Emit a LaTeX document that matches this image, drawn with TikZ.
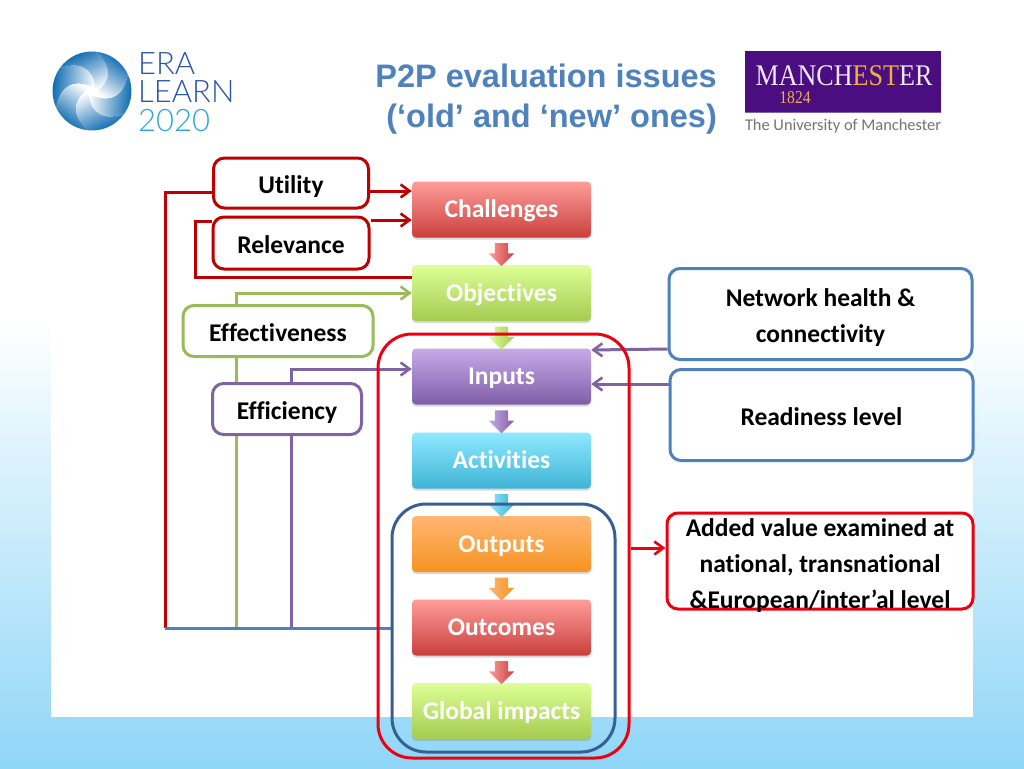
\documentclass[tikz,border=0pt]{standalone}
\usepackage{fontspec}
\setmainfont{Carlito}[Ligatures=CommonOff]
\newfontfamily\titlefont{Liberation Sans}
\newfontfamily\logofont{Lato Light}
\newfontfamily\uomfont{Liberation Serif}[FakeStretch=0.87]
\usetikzlibrary{arrows.meta,shapes.arrows,shadows,backgrounds}
\definecolor{skyblue}{HTML}{8FD6F7}
\definecolor{titleblue}{HTML}{4F81BD}
\definecolor{darkred}{HTML}{C00000}
\definecolor{brightred}{HTML}{EE0010}
\definecolor{sidegreen}{HTML}{9BBB59}
\definecolor{sidepurple}{HTML}{8064A2}
\definecolor{frameblue}{HTML}{376092}
\definecolor{uompurple}{HTML}{4A0E80}
\definecolor{uomgold}{HTML}{F0B040}
\definecolor{logodark}{HTML}{0062AC}
\definecolor{logomid}{HTML}{3FAAE6}
\definecolor{logonavy}{HTML}{2A55A5}
\definecolor{logolight}{HTML}{2AA5DC}
\definecolor{redtop}{HTML}{FF9D9A}
\definecolor{redbot}{HTML}{C9403D}
\definecolor{greentop}{HTML}{DDFF96}
\definecolor{greenbot}{HTML}{A5CB50}
\definecolor{purpletop}{HTML}{C6ABE8}
\definecolor{purplebot}{HTML}{7F5EA8}
\definecolor{cyantop}{HTML}{8FE9FF}
\definecolor{cyanbot}{HTML}{3FB4D6}
\definecolor{orangetop}{HTML}{FFB673}
\definecolor{orangebot}{HTML}{F79320}
\tikzset{
  flowbox/.style 2 args={rounded corners=4pt,minimum width=179pt,minimum height=56pt,inner sep=0pt,
    top color=#1,bottom color=#2,text=white,font=\fontsize{25.5}{30}\selectfont\bfseries,
    execute at begin node={\rule{0pt}{25pt}},execute at end node={\rule[-9pt]{0pt}{9pt}},
    drop shadow={opacity=0.3,shadow xshift=0pt,shadow yshift=-2pt}},
  flowarrow/.style 2 args={single arrow,rotate=-90,minimum height=23pt,minimum width=25pt,inner xsep=0pt,inner ysep=6.5pt,
    single arrow head extend=6pt,single arrow head indent=0pt,left color=#1,right color=#2},
  sidebox/.style={draw=#1,fill=white,line width=3pt,rounded corners=11pt,inner sep=0pt,align=center,
    font=\fontsize{25.5}{36}\selectfont\bfseries,text=black,
    execute at begin node={\rule{0pt}{26pt}},execute at end node={\rule[-6pt]{0pt}{6pt}}},
  tallfirst/.style={execute at begin node={\rule{0pt}{#1}}},
  framebox/.style={draw=#1,line width=3pt,rounded corners=34pt,inner sep=0pt},
  link/.style={draw=#1,line width=3pt},
  linkarrow/.style={draw=#1,line width=3pt,-{Straight Barb[length=9pt,width=13pt,line width=2.6pt]}},
}
\begin{document}
\begin{tikzpicture}[x=1pt,y=-1pt]
\useasboundingbox (0,0) rectangle (1024,768);

\node[flowbox={redtop}{redbot}] (challenges) at (501.5,209.5) {Challenges};
\node[flowbox={greentop}{greenbot}] (objectives) at (501.5,293) {Objectives};
\node[flowbox={purpletop}{purplebot}] (inputs) at (501.5,376.5) {Inputs};
\node[flowbox={cyantop}{cyanbot}] (activities) at (501.5,460.5) {Activities};
\node[flowbox={orangetop}{orangebot}] (outputs) at (501.5,544) {Outputs};
\node[flowbox={redtop}{redbot}] (outcomes) at (501.5,627.5) {Outcomes};
\node[flowbox={greentop}{greenbot}] (impacts) at (501.5,711) {Global impacts};

\foreach \from/\to/\first/\second in {challenges/objectives/redtop/redbot,objectives/inputs/greentop/greenbot,inputs/activities/purpletop/purplebot,activities/outputs/cyantop/cyanbot,outputs/outcomes/orangetop/orangebot,outcomes/impacts/redtop/redbot}
  \path (\from.south) -- (\to.north) node[midway,flowarrow={\first}{\second}] (arrow\from) {};

\node[framebox=brightred,minimum width=251pt,minimum height=424pt] (outerframe) at (503.5,546) {};
\node[framebox=frameblue,minimum width=223pt,minimum height=248pt] (innerframe) at (503.5,628) {};

\node[sidebox=darkred,minimum width=155pt,minimum height=50pt] (utility) at (291,183) {Utility};
\node[sidebox=darkred,minimum width=156pt,minimum height=52pt] (relevance) at (291,243) {Relevance};
\node[sidebox=sidegreen,minimum width=190pt,minimum height=51pt] (effectiveness) at (278,331) {Effectiveness};
\node[sidebox=sidepurple,minimum width=149pt,minimum height=51pt] (efficiency) at (287,409) {Efficiency};
\node[sidebox=titleblue,tallfirst=62pt,minimum width=303pt,minimum height=91pt] (network) at (820.5,314) {Network health \&\\connectivity};
\node[sidebox=titleblue,minimum width=303pt,minimum height=91pt] (readiness) at (821.5,415) {Readiness level};
\node[sidebox=brightred,tallfirst=100pt,minimum width=306pt,minimum height=96pt,inner ysep=-12pt] (addedvalue) at (820,561) {Added value examined at\\national, transnational\\\&European/inter’al level};

\coordinate (chalupper) at (challenges.west |- 0,191);
\coordinate (challower) at (challenges.west |- 0,220);
\coordinate (objupper) at (objectives.west |- 0,277);
\coordinate (objlower) at (objectives.west |- 0,293);
\coordinate (inputleft) at (inputs.west |- 0,369);
\coordinate (inputupper) at (inputs.east |- 0,350);
\coordinate (inputlower) at (inputs.east |- 0,384);
\coordinate (valuein) at (addedvalue.west |- 0,548);
\coordinate (busred) at (165,628);
\coordinate (busrel) at (195,221);
\coordinate (busgreen) at (236,628);
\coordinate (buspurple) at (291,628);

\begin{scope}[on background layer]
\fill[white] (0,0) rectangle (1024,320);
\shade[top color=white,bottom color=skyblue] (0,320) rectangle (1024,768);
\fill[white] (51,0) rectangle (973,717);
\draw[linkarrow=darkred] (utility.east |- chalupper) -- (chalupper);
\draw[link=darkred] (utility.west |- 0,192) -| (busred);
\draw[linkarrow=darkred] (relevance.east |- challower) -- (challower);
\draw[link=darkred] (relevance.west |- busrel) -- (busrel) |- (objupper);
\draw[linkarrow=sidegreen] (busgreen |- effectiveness.north) -- (busgreen |- objlower) -- (objlower);
\draw[link=sidegreen] (busgreen |- effectiveness.south) -- (busgreen);
\draw[linkarrow=sidepurple] (buspurple |- efficiency.north) -- (buspurple |- inputleft) -- (inputleft);
\draw[link=sidepurple] (buspurple |- efficiency.south) -- (buspurple);
\draw[link=titleblue] (busred) -- (innerframe.west);
\draw[linkarrow=sidepurple] (network.west |- 0,349) -- (inputupper);
\draw[linkarrow=sidepurple] (readiness.west |- inputlower) -- (inputlower);
\draw[linkarrow=brightred] (outerframe.east |- valuein) -- (valuein);
\end{scope}

\node[anchor=east,inner sep=0pt,align=right,text=titleblue,font=\titlefont\bfseries\fontsize{32.5}{40}\selectfont] (title) at (717,99) {P2P evaluation issues\\(‘old’ and ‘new’ ones)};

\begin{scope}[shift={(92,91)},y=1pt]
\foreach \a in {0,60,...,300}
  \shade[top color=logodark,middle color=logomid,bottom color=white,shading angle=\a+25] (\a:6) .. controls (\a+30:22) and (\a+50:32) .. (\a+85:39.5) arc[start angle=\a+85,end angle=\a+145,radius=39.5] .. controls (\a+110:32) and (\a+90:22) .. (\a+60:6) arc[start angle=\a+60,end angle=\a,radius=6] -- cycle;
\end{scope}
\node[anchor=west,inner sep=0pt,align=left,text=logonavy,font=\logofont\fontsize{31}{28.5}\selectfont] (logotext) at (138,92) {ERA\\LEARN\\\textcolor{logolight}{2020}};

\fill[uompurple] (745,51) rectangle (941,112);
\draw[sidepurple,line width=1pt] (745,112.5) -- (941,112.5);
\node[anchor=center,inner sep=0pt,align=center,text=white!90!uompurple,font=\uomfont\fontsize{30}{18}\selectfont] (uomname) at (844,85) {MANCH\textcolor{uomgold}{EST}ER\\\hspace*{-98pt}\textcolor{uomgold}{\fontsize{18}{18}\selectfont 1824}};
\node[inner sep=0pt,text=black!55,font=\fontsize{16.4}{17}\selectfont] (uomtext) at (843,126) {The University of Manchester};
\end{tikzpicture}
\end{document}
